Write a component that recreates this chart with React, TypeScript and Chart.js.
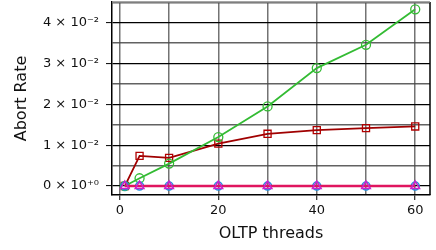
import React, { useEffect, useRef } from "react";
import { Chart, registerables } from "chart.js";

Chart.register(...registerables);

const threads = [1, 4, 10, 20, 30, 40, 50, 60];
const redRates = [0, 0.0074, 0.0069, 0.0104, 0.0128, 0.0137, 0.0142, 0.0146];
const greenRates = [0, 0.0019, 0.0055, 0.012, 0.0195, 0.0289, 0.0346, 0.0433];
const zeroRates = [0, 0, 0, 0, 0, 0, 0, 0];
const xTicks = [0, 10, 20, 30, 40, 50, 60];
const yTicks = [0, 0.005, 0.01, 0.015, 0.02, 0.025, 0.03, 0.035, 0.04, 0.045];
const yLabels: Record<string, string> = {
  "0": "0 × 10⁺⁰",
  "1": "1 × 10⁻²",
  "2": "2 × 10⁻²",
  "3": "3 × 10⁻²",
  "4": "4 × 10⁻²",
};

const isMajorY = (v: number) => Math.abs(v * 100 - Math.round(v * 100)) < 1e-6;
const isMajorX = (v: number) => Math.round(v) % 20 === 0;

export default function App() {
  const ref = useRef<HTMLCanvasElement | null>(null);
  useEffect(() => {
    document.body.style.margin = "0";
    const ctx = ref.current!;
    const pts = (d: number[]) => threads.map((x, i) => ({ x, y: d[i] }));
    const chart = new Chart(ctx, {
      type: "line",
      data: {
        datasets: [
          {
            label: "zero-c",
            data: pts(zeroRates),
            borderColor: "#e0155f",
            borderWidth: 2.5,
            pointStyle: "triangle",
            pointRadius: 5,
            pointBorderColor: "#cc22cc",
            pointBackgroundColor: "rgba(0,0,0,0)",
            pointBorderWidth: 1.5,
            order: 0,
          },
          {
            label: "zero-b",
            data: pts(zeroRates),
            borderColor: "#1f77d4",
            borderWidth: 1.5,
            pointStyle: "circle",
            pointRadius: 4,
            pointBorderColor: "#1f8fe0",
            pointBackgroundColor: "rgba(0,0,0,0)",
            pointBorderWidth: 1.5,
            order: 1,
          },
          {
            label: "red",
            data: pts(redRates),
            borderColor: "#a00000",
            borderWidth: 1.8,
            pointStyle: "rect",
            pointRadius: 5,
            pointBorderColor: "#b00000",
            pointBackgroundColor: "rgba(0,0,0,0)",
            pointBorderWidth: 1.3,
            order: 3,
          },
          {
            label: "green",
            data: pts(greenRates),
            borderColor: "#33bb33",
            borderWidth: 1.8,
            pointStyle: "circle",
            pointRadius: 4.5,
            pointBorderColor: "#33bb33",
            pointBackgroundColor: "rgba(0,0,0,0)",
            pointBorderWidth: 1.3,
            order: 2,
          },
        ],
      },
      options: {
        animation: false,
        responsive: false,
        maintainAspectRatio: false,
        layout: { autoPadding: false, padding: { top: 2, right: 6, left: 0, bottom: 0 } },
        plugins: { legend: { display: false }, tooltip: { enabled: false } },
        scales: {
          x: {
            type: "linear",
            min: -1.6,
            max: 63,
            afterBuildTicks: (s: any) => {
              s.ticks = xTicks.map((v) => ({ value: v }));
            },
            afterFit: (s: any) => {
              s.height = 55;
              s.paddingLeft = 0;
              s.paddingRight = 0;
            },
            ticks: {
              autoSkip: false,
              maxRotation: 0,
              color: "#111",
              padding: 3,
              font: { family: "DejaVu Sans", size: 13 },
              callback: (v: any) => (isMajorX(Number(v)) ? String(v) : ""),
            },
            grid: {
              color: "rgba(90,90,90,0.85)",
              lineWidth: 1.5,
              tickLength: 5,
              tickColor: (c: any) => (c.tick && isMajorX(c.tick.value) ? "#000" : "rgba(0,0,0,0)"),
              tickWidth: 1,
            },
            border: { display: true, color: "#000", width: 1.5 },
            title: {
              display: true,
              text: "OLTP threads",
              color: "#111",
              font: { family: "DejaVu Sans", size: 16 },
              padding: { top: 2, bottom: 7 },
            },
          },
          y: {
            type: "linear",
            min: -0.0022,
            max: 0.0451,
            afterBuildTicks: (s: any) => {
              s.ticks = yTicks.map((v) => ({ value: v }));
            },
            afterFit: (s: any) => {
              s.width = 112;
              s.paddingTop = 0;
              s.paddingBottom = 0;
            },
            ticks: {
              autoSkip: false,
              color: "#111",
              padding: 7,
              font: { family: "DejaVu Sans", size: 13 },
              callback: (v: any) => {
                const n = Number(v);
                if (!isMajorY(n)) return "";
                return yLabels[String(Math.round(n * 100))] || "";
              },
            },
            grid: {
              color: (c: any) =>
                c.tick && isMajorY(c.tick.value) ? "#000" : "rgba(70,70,70,0.85)",
              lineWidth: (c: any) => (c.tick && isMajorY(c.tick.value) ? 1.2 : 1.5),
              tickLength: 6,
              tickColor: (c: any) => (c.tick && isMajorY(c.tick.value) ? "#000" : "rgba(0,0,0,0)"),
              tickWidth: 1,
            },
            border: { display: true, color: "#000", width: 1.5 },
            title: {
              display: true,
              text: "Abort Rate",
              color: "#111",
              font: { family: "DejaVu Sans", size: 16 },
              padding: { top: 12, bottom: 0 },
            },
          },
        },
      },
      plugins: [
        {
          id: "frame",
          afterDraw: (ch: any) => {
            const a = ch.chartArea;
            const g = ch.ctx;
            g.save();
            g.strokeStyle = "#000";
            g.lineWidth = 1.5;
            g.beginPath();
            g.moveTo(a.right, a.top);
            g.lineTo(a.right, a.bottom);
            g.stroke();
            g.strokeStyle = "#888";
            g.beginPath();
            g.moveTo(a.left, a.top);
            g.lineTo(a.right, a.top);
            g.stroke();
            g.restore();
          },
        },
      ],
    } as any);
    return () => chart.destroy();
  }, []);
  return <canvas ref={ref} width={436} height={250} style={{ display: "block" }} />;
}
